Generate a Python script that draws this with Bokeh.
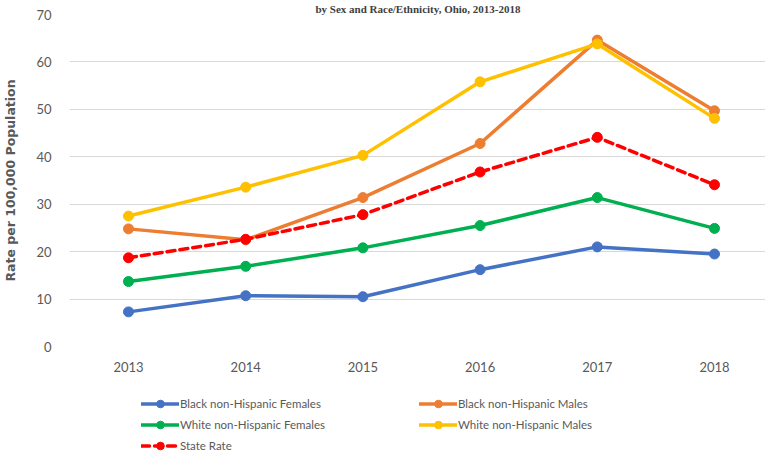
from bokeh.plotting import figure
from bokeh.layouts import column
from bokeh.models import (ColumnDataSource, Legend, LegendItem, FixedTicker,
                          Range1d)
from bokeh.embed import file_html
from bokeh.resources import INLINE

# ---- data ----
years = [2013, 2014, 2015, 2016, 2017, 2018]
year_labels = ["2013", "2014", "2015", "2016", "2017", "2018"]
black_females = [7.3, 10.7, 10.5, 16.2, 21.0, 19.5]
black_males = [24.8, 22.5, 31.4, 42.8, 64.6, 49.7]
white_females = [13.7, 16.9, 20.8, 25.5, 31.4, 24.9]
white_males = [27.5, 33.6, 40.3, 55.8, 63.8, 48.1]
state_rate = [18.7, 22.6, 27.8, 36.8, 44.1, 34.1]
y_ticks = [0, 10, 20, 30, 40, 50, 60, 70]
title_text = "by Sex and Race/Ethnicity, Ohio, 2013-2018"
y_label = "Rate per 100,000 Population"

series = [
    ("Black non-Hispanic Females", black_females, "#4472C4", "solid"),
    ("Black non-Hispanic Males", black_males, "#ED7D31", "solid"),
    ("White non-Hispanic Females", white_females, "#00B050", "solid"),
    ("White non-Hispanic Males", white_males, "#FFC000", "solid"),
    ("State Rate", state_rate, "#FF0000", "8 5"),
]

GRAY = "#595959"
FONT = "Lato"

# ---------------- main chart ----------------
p = figure(frame_width=697, frame_height=332, output_backend="svg",
           toolbar_location=None,
           x_range=Range1d(2012.4966, 2018.4437), y_range=Range1d(0, 70),
           min_border_left=68, min_border_right=0, min_border_top=0,
           min_border_bottom=0, title=title_text)
p.outline_line_color = None
p.background_fill_color = "white"
p.border_fill_color = "white"

p.title.align = "center"
p.title.text_font = "Liberation Serif"
p.title.text_font_size = "11px"
p.title.text_font_style = "bold"
p.title.text_color = "#404040"
p.title.standoff = 0
p.title.offset = 0

p.xgrid.grid_line_color = None
p.ygrid.grid_line_color = "#D9D9D9"
p.ygrid.grid_line_width = 1.2
p.ygrid.ticker = FixedTicker(ticks=y_ticks)

p.xaxis.ticker = FixedTicker(ticks=years)
p.xaxis.major_label_overrides = {y: l for y, l in zip(years, year_labels)}
p.yaxis.ticker = FixedTicker(ticks=y_ticks)
for ax in (p.xaxis, p.yaxis):
    ax.axis_line_color = None
    ax.major_tick_line_color = None
    ax.minor_tick_line_color = None
    ax.major_tick_out = 0
    ax.major_tick_in = 0
    ax.major_label_text_color = GRAY
    ax.major_label_text_font = FONT
    ax.major_label_text_font_size = "13px"
p.xaxis.major_label_standoff = 15
p.yaxis.major_label_standoff = 18
p.yaxis.axis_label = y_label
p.yaxis.axis_label_text_font = "DejaVu Sans"
p.yaxis.axis_label_text_font_style = "bold"
p.yaxis.axis_label_text_font_size = "12.5px"
p.yaxis.axis_label_text_color = GRAY
p.yaxis.axis_label_standoff = 15

# ---------------- legend strip ----------------
lf = figure(width=765, height=82, output_backend="svg", toolbar_location=None,
            x_range=Range1d(0, 1), y_range=Range1d(0, 1),
            x_axis_type=None, y_axis_type=None,
            min_border_left=0, min_border_right=0, min_border_top=0,
            min_border_bottom=0)
lf.outline_line_color = None
lf.xgrid.visible = False
lf.ygrid.visible = False
lf.background_fill_color = "white"
lf.border_fill_color = "white"

items = []
for name, vals, color, dash in series:
    src = ColumnDataSource(dict(x=years, y=vals))
    p.line("x", "y", source=src, line_color=color, line_width=3.5,
           line_dash=dash, line_join="round", line_cap="round")
    p.scatter("x", "y", source=src, size=10, fill_color=color,
              line_color=color)
    # same series in the legend strip (outside its view) only for legend glyphs
    lr = lf.line("x", "y", source=src, line_color=color, line_width=3.5,
                 line_dash=dash, line_cap="round")
    sr = lf.scatter("x", "y", source=src, size=10, fill_color=color,
                    line_color=color)
    items.append(LegendItem(label=name, renderers=[lr, sr]))


def make_legend(its, loc):
    lg = Legend(items=its, location=loc, orientation="vertical",
                glyph_width=38, glyph_height=19, label_height=19,
                spacing=2, padding=0, margin=0, label_standoff=1,
                label_text_font=FONT, label_text_font_size="11.5px",
                label_text_color=GRAY, border_line_color=None,
                background_fill_alpha=0)
    lf.add_layout(lg, "center")


make_legend([items[0], items[2], items[4]], (72, 1.5))
make_legend([items[1], items[3]], (350, 22.5))

layout = column(p, lf, spacing=0)
open("out.html", "w").write(file_html(layout, INLINE))
